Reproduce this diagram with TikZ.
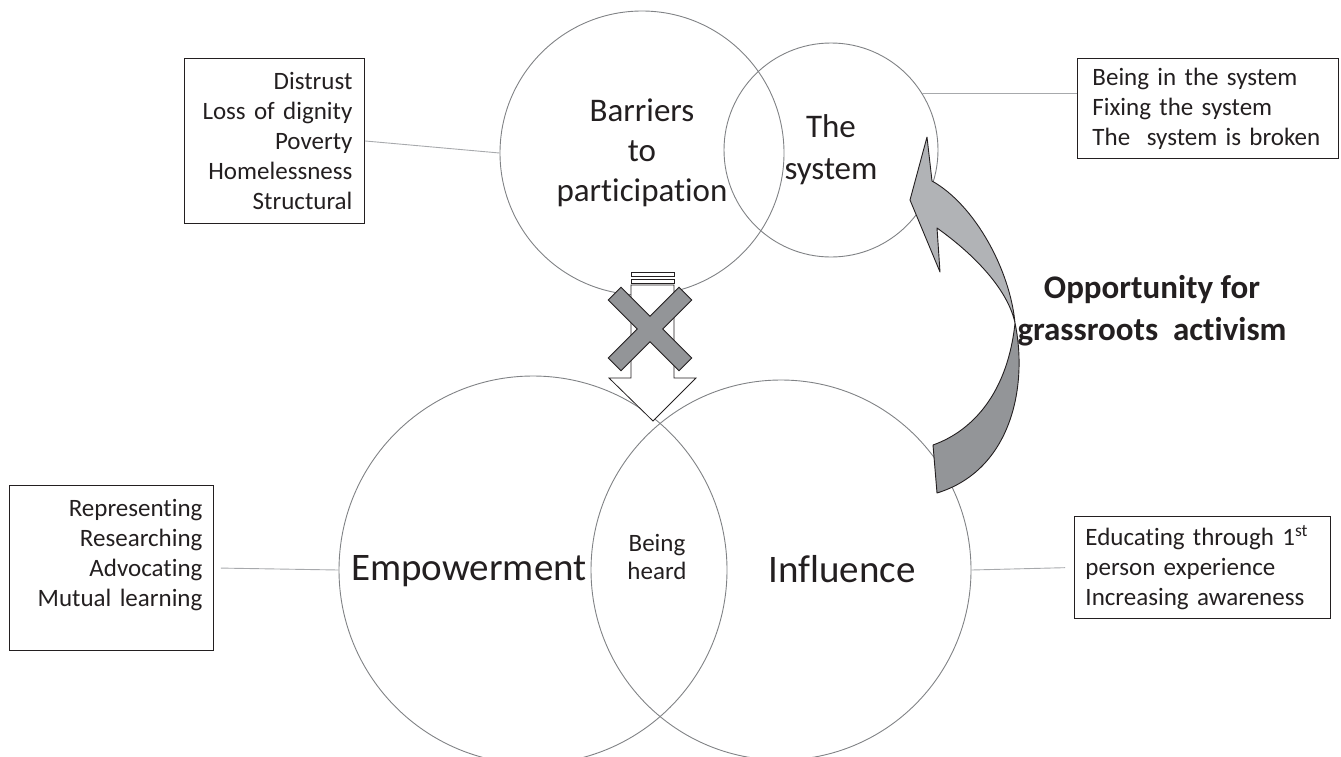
\documentclass[tikz,border=0pt]{standalone}
\usepackage{fontspec}
\setmainfont{Carlito}[Ligatures={NoCommon}]
\usetikzlibrary{positioning}
\definecolor{ringgray}{HTML}{808285}
\definecolor{linkgray}{HTML}{A7A9AC}
\definecolor{inkblack}{HTML}{231F20}
\definecolor{crossgray}{HTML}{939598}
\definecolor{ribbonlight}{HTML}{B1B3B6}

\begin{document}
\begin{tikzpicture}[
    x=1pt, y=-1pt,
    ring/.style={circle, draw=ringgray, line width=0.9pt, inner sep=0pt, text=inkblack, align=center},
    listbox/.style={rectangle, draw=inkblack, line width=0.9pt, inner ysep=0pt, text=inkblack, font=\fontsize{25}{30}\selectfont, anchor=north west},
    label/.style={text=inkblack, inner sep=0pt, align=center},
    link/.style={draw=linkgray, line width=0.9pt},
    hollow/.style={draw=inkblack, fill=white, line width=0.8pt},
    ribbon/.style={draw=inkblack, line width=0.9pt, line join=round}
]
\useasboundingbox (0,0) rectangle (1341,756);

% Circles
\node[ring, minimum size=284pt, font=\fontsize{33}{40}\selectfont] (barriers) at (642,153) {Barriers\\to\\participation};
\node[ring, minimum size=214pt, font=\fontsize{33}{42}\selectfont] (system) at (831,150) {The\\system};
\node[ring, minimum size=388pt] (empower) at (533,570) {};
\node[ring, minimum size=380pt] (influence) at (781,570) {};

% Circle texts
\node[label, anchor=base, font=\fontsize{39}{44}\selectfont] (emptext) at (469,580) {Empowerment};
\node[label, anchor=base, font=\fontsize{39}{44}\selectfont] (inftext) at (842,582) {Influence};
\node[label, anchor=base, font=\fontsize{25}{28}\selectfont] (heard) at (657,579) {Being\\heard};

% Lists
\node[listbox, align=right, text width=156pt, inner xsep=12pt, minimum height=165pt] (barlist) at (184,58) {Distrust\\Loss of dignity\\Poverty\\Homelessness\\Structural};
\node[listbox, align=left, text width=231pt, inner xsep=15pt, minimum height=100pt] (syslist) at (1077,58) {Being in the system\\Fixing the system\\The~ system is broken};
\node[listbox, align=right, text width=182pt, inner xsep=11pt, minimum height=165pt] (actlist) at (9,485) {Representing\\Researching\\Advocating\\Mutual learning\\ \mbox{}};
\node[listbox, align=left, text width=234pt, inner xsep=11pt, minimum height=102pt] (edulist) at (1074,516) {Educating through 1\textsuperscript{st}\\person experience\\Increasing awareness};

% Links
\draw[link] (barlist.east) -- (barriers.west);
\draw[link] (system.32) -- (system.32 -| syslist.west);
\draw[link, shorten <=7pt] (actlist.east) -- (empower.west);
\draw[link, shorten >=9pt] (influence.east) -- (edulist.west);

% Blocked arrow
\draw[hollow] (631,272.7) rectangle (674,276);
\draw[hollow] (631,279) rectangle (674,283.3);
\draw[hollow] (631,285) -- (631,378) -- (609,378) -- (653,421) -- (696,378) -- (674,378) -- (674,285) -- cycle;
\begin{scope}[shift={(650,329)}, rotate=45]
  \filldraw[draw=inkblack, fill=crossgray, line width=0.9pt, line join=miter]
    (9,9) -- (50,9) -- (50,-9) -- (9,-9) -- (9,-50) -- (-9,-50) -- (-9,-9) -- (-50,-9) -- (-50,9) -- (-9,9) -- (-9,50) -- (9,50) -- cycle;
\end{scope}

% Curved arrow
\filldraw[ribbon, fill=ribbonlight] (927,137) -- (910,200) -- (940,272) -- (937,228)
  .. controls (975,255) and (1008,290) .. (1015,323)
  .. controls (1010,270) and (975,205) .. (932,181) -- cycle;
\filldraw[ribbon, fill=crossgray] (1015,323)
  .. controls (1028,385) and (1012,470) .. (937,493) -- (933,445)
  .. controls (975,430) and (1008,390) .. (1015,323) -- cycle;

\node[label, font=\bfseries\fontsize{33}{42}\selectfont] (opportunity) at (1152,311) {Opportunity for\\grassroots~ activism};

\end{tikzpicture}
\end{document}
